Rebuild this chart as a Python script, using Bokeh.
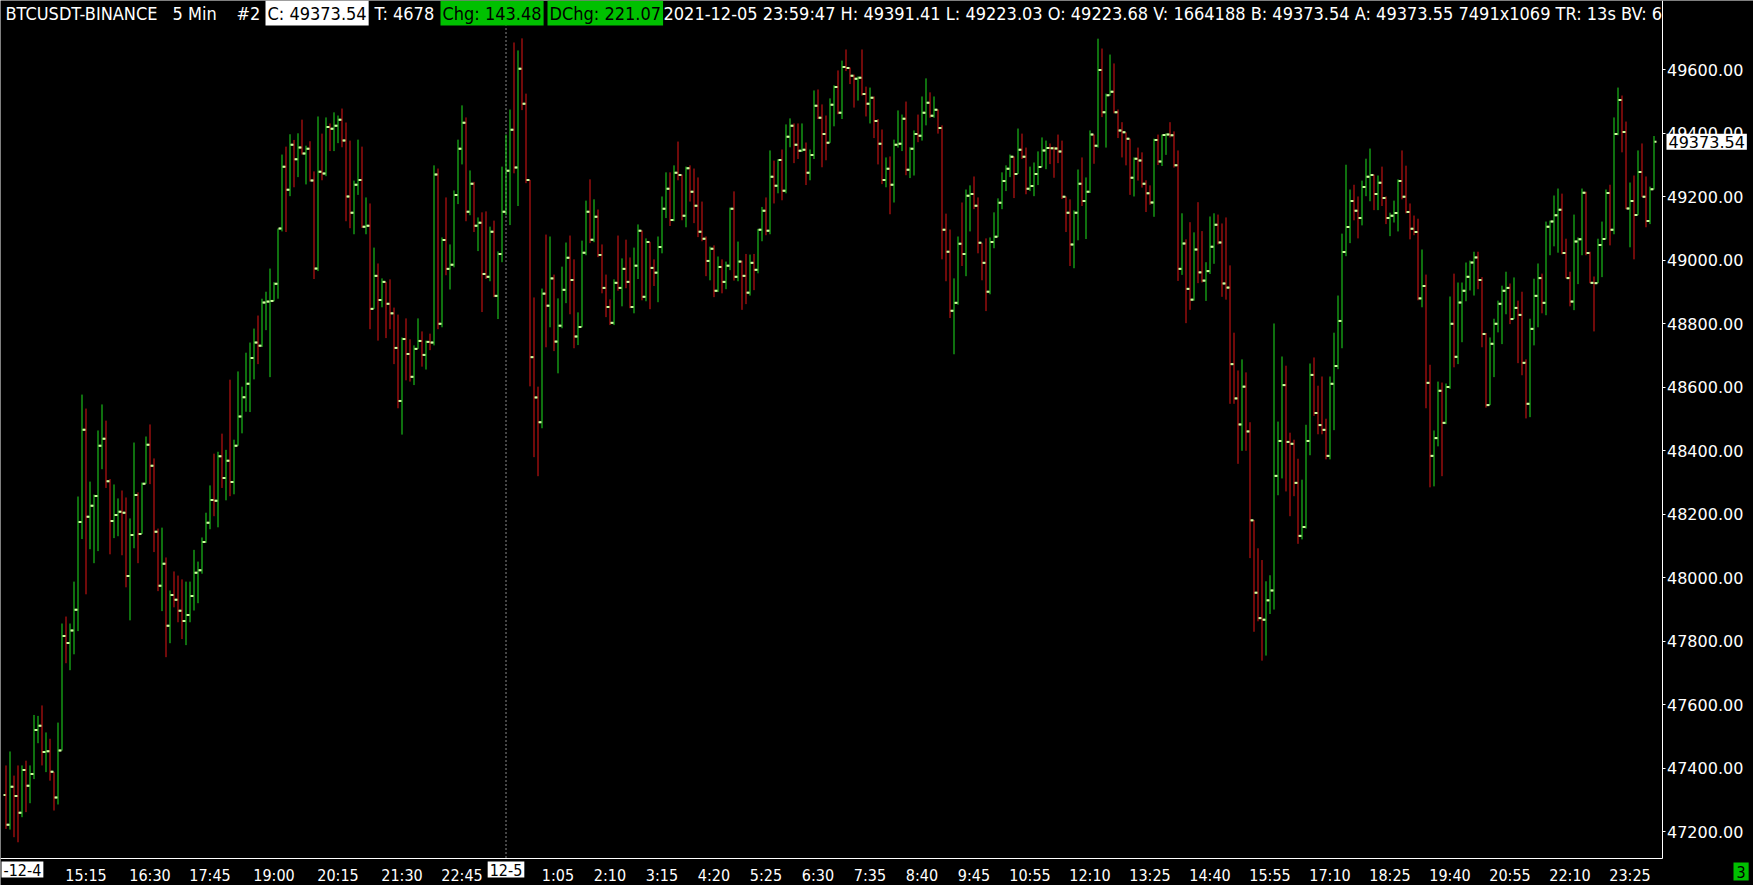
import numpy as np
from bokeh.plotting import figure
from bokeh.models import Range1d, FixedTicker, NumeralTickFormatter, Label, ColumnDataSource, LinearAxis
from bokeh.embed import file_html
from bokeh.resources import INLINE

# ---------------- data (BTCUSDT 5-min bars, 2021-12-04 13:35 .. 2021-12-05 23:55) -------------
first_open = 47316
closes = [
    47222, 47342, 47313, 47260, 47395, 47345, 47382, 47521, 47534, 47451,
    47454, 47389, 47308, 47456, 47817, 47795, 47834, 47899, 48176, 48466,
    48192, 48227, 48258, 48416, 48438, 48304, 48179, 48198, 48208, 48205,
    48006, 48135, 48261, 48138, 48296, 48419, 48353, 48145, 47975, 48044,
    47849, 47946, 47931, 47896, 47864, 47883, 47943, 48016, 48024, 48113,
    48173, 48245, 48243, 48383, 48314, 48369, 48302, 48416, 48508, 48569,
    48611, 48692, 48741, 48731, 48867, 48870, 48872, 48926, 49100, 49295,
    49222, 49364, 49318, 49355, 49336, 49351, 49251, 48974, 49279, 49273,
    49420, 49414, 49424, 49443, 49377, 49201, 49150, 49238, 49253, 49106,
    49109, 48847, 48951, 48875, 48932, 48863, 48833, 48724, 48557, 48752,
    48705, 48633, 48721, 48746, 48702, 48743, 48741, 49270, 48800, 49064,
    48973, 48986, 49206, 49351, 49433, 49153, 49241, 49109, 49118, 48957,
    48948, 49090, 48888, 49020, 49153, 49282, 49411, 49292, 49603, 49493,
    49253, 48695, 48568, 48490, 48895, 48857, 48943, 48744, 48794, 48907,
    49008, 48938, 48760, 48790, 49024, 49153, 49065, 49137, 49017, 48913,
    48853, 48803, 48929, 48913, 48973, 48932, 48853, 48983, 49093, 48885,
    49058, 48976, 48961, 49042, 49162, 49225, 49127, 49276, 49269, 49140,
    49290, 49216, 49172, 49090, 49068, 48998, 49036, 48904, 48979, 48932,
    48983, 49162, 48948, 48996, 48951, 48898, 48992, 48970, 49096, 49156,
    49093, 49263, 49235, 49316, 49219, 49389, 49424, 49364, 49345, 49348,
    49276, 49332, 49487, 49449, 49398, 49370, 49490, 49546, 49465, 49609,
    49606, 49581, 49572, 49575, 49524, 49493, 49512, 49439, 49367, 49253,
    49288, 49238, 49364, 49367, 49446, 49285, 49351, 49398, 49392, 49465,
    49496, 49455, 49474, 49417, 49096, 49027, 48841, 48866, 49052, 49020,
    49203, 49209, 49172, 49055, 48992, 48901, 49058, 49074, 49181, 49250,
    49288, 49326, 49272, 49348, 49326, 49225, 49234, 49272, 49294, 49346,
    49354, 49353, 49352, 49343, 49200, 49150, 49050, 49150, 49241, 49187,
    49216, 49396, 49361, 49599, 49466, 49520, 49531, 49466, 49409, 49403,
    49383, 49260, 49320, 49314, 49241, 49211, 49182, 49379, 49311, 49395,
    49396, 49394, 49299, 48973, 49053, 48910, 48876, 49034, 48962, 48936,
    48966, 49043, 49112, 49056, 48927, 48914, 48673, 48565, 48483, 48602,
    48461, 48181, 47953, 47873, 47868, 47929, 47960, 48321, 48431, 48607,
    48428, 48422, 48299, 48132, 48160, 48431, 48639, 48519, 48481, 48466,
    48384, 48611, 48667, 48809, 49026, 49105, 49187, 49156, 49133, 49231,
    49263, 49269, 49209, 49244, 49196, 49133, 49140, 49149, 49250, 49200,
    49152, 49099, 49089, 48880, 48919, 48614, 48384, 48440, 48589, 48488,
    48601, 48800, 48696, 48867, 48904, 48948, 48993, 49009, 48938, 48768,
    48544, 48737, 48800, 48863, 48904, 48913, 48815, 48850, 48828, 48677,
    48548, 48784, 48888, 48944, 48866, 49106, 49122, 49142, 49159, 49023,
    48944, 48870, 49059, 49066, 49213, 49023, 48929, 48928, 49048, 49067,
    49212, 49096, 49398, 49505, 49404, 49163, 49187, 49143, 49278, 49200,
    49124, 49223.68, 49373.54,
]
highs = [
    47409, 47453, 47377, 47409, 47409, 47424, 47409, 47568, 47565, 47598,
    47513, 47493, 47389, 47544, 47856, 47878, 47856, 47988, 48256, 48577,
    48533, 48303, 48262, 48464, 48546, 48495, 48311, 48294, 48250, 48275,
    48253, 48187, 48426, 48269, 48300, 48445, 48483, 48376, 48155, 48158,
    48064, 47960, 48020, 48007, 47995, 47988, 47988, 48088, 48051, 48127,
    48205, 48291, 48391, 48397, 48454, 48403, 48624, 48435, 48650, 48602,
    48709, 48741, 48785, 48826, 48879, 48901, 48974, 48931, 49100, 49333,
    49358, 49397, 49379, 49400, 49443, 49361, 49375, 49280, 49453, 49399,
    49450, 49431, 49466, 49456, 49478, 49434, 49377, 49251, 49380, 49358,
    49198, 49179, 49040, 48990, 48943, 48932, 48940, 48851, 48829, 48757,
    48817, 48751, 48732, 48817, 48776, 48747, 48769, 49299, 49289, 49072,
    49198, 49050, 49220, 49380, 49488, 49450, 49283, 49247, 49135, 49151,
    49154, 49106, 49125, 49028, 49295, 49396, 49475, 49686, 49661, 49699,
    49525, 49253, 48883, 48602, 48911, 49081, 49075, 48955, 48880, 48980,
    49056, 49078, 49003, 48836, 49062, 49188, 49255, 49192, 49160, 49050,
    48955, 48877, 48940, 49078, 49006, 49065, 49009, 49040, 49113, 49094,
    49069, 49056, 49003, 49075, 49201, 49277, 49277, 49299, 49374, 49270,
    49295, 49299, 49289, 49261, 49185, 49075, 49043, 49047, 49012, 49003,
    48996, 49166, 49217, 49059, 48999, 49020, 49018, 49020, 49099, 49168,
    49198, 49346, 49314, 49318, 49349, 49428, 49447, 49431, 49431, 49431,
    49371, 49349, 49535, 49538, 49491, 49456, 49510, 49551, 49598, 49629,
    49664, 49607, 49585, 49579, 49664, 49547, 49544, 49516, 49445, 49412,
    49324, 49327, 49380, 49472, 49459, 49500, 49356, 49409, 49459, 49516,
    49573, 49529, 49516, 49475, 49425, 49147, 49097, 48943, 49075, 49182,
    49223, 49236, 49264, 49198, 49053, 49069, 49072, 49151, 49195, 49277,
    49299, 49333, 49327, 49415, 49399, 49355, 49295, 49308, 49343, 49387,
    49377, 49368, 49358, 49396, 49377, 49201, 49192, 49157, 49286, 49324,
    49261, 49409, 49396, 49698, 49667, 49525, 49648, 49620, 49475, 49435,
    49403, 49383, 49324, 49355, 49340, 49252, 49236, 49383, 49396, 49396,
    49400, 49435, 49406, 49346, 49148, 49066, 49120, 49088, 49183, 49092,
    48994, 49138, 49148, 49144, 49116, 49135, 48984, 48772, 48653, 48688,
    48647, 48490, 48182, 48093, 48056, 47989, 48008, 48801, 48492, 48697,
    48668, 48457, 48435, 48375, 48309, 48482, 48675, 48694, 48605, 48634,
    48501, 48634, 48772, 48889, 49084, 49301, 49223, 49238, 49201, 49251,
    49320, 49352, 49270, 49267, 49295, 49201, 49150, 49188, 49255, 49346,
    49298, 49179, 49141, 49131, 49034, 48955, 48671, 48464, 48618, 48615,
    48612, 48886, 48958, 48930, 48930, 48993, 48999, 49027, 49027, 48947,
    48771, 48757, 48816, 48873, 48920, 48964, 48927, 48946, 48873, 48901,
    48688, 48816, 48942, 48990, 48958, 49122, 49125, 49204, 49226, 49210,
    49068, 48964, 49144, 49072, 49226, 49216, 49027, 48949, 49068, 49122,
    49223, 49238, 49450, 49544, 49519, 49437, 49245, 49267, 49346, 49368,
    49264, 49232, 49391.41,
]
lows = [
    47209, 47207, 47183, 47167, 47246, 47262, 47290, 47366, 47479, 47409,
    47388, 47361, 47267, 47286, 47456, 47731, 47709, 47759, 47832, 48122,
    47948, 48090, 48046, 48084, 48342, 48283, 48074, 48125, 48131, 48071,
    47970, 47866, 48093, 48046, 48138, 48296, 48295, 48081, 47958, 47895,
    47750, 47794, 47907, 47860, 47807, 47788, 47860, 47897, 47920, 48013,
    48110, 48153, 48194, 48159, 48283, 48244, 48257, 48263, 48454, 48455,
    48523, 48522, 48625, 48673, 48727, 48780, 48632, 48871, 48879, 49091,
    49089, 49202, 49230, 49262, 49333, 49239, 49248, 48941, 48966, 49252,
    49265, 49344, 49344, 49369, 49356, 49123, 49101, 49082, 49206, 49102,
    49082, 48783, 48847, 48747, 48852, 48755, 48783, 48673, 48534, 48451,
    48622, 48618, 48607, 48721, 48665, 48656, 48717, 48732, 48783, 48789,
    48953, 48908, 48978, 49177, 49302, 49123, 49142, 49089, 49029, 48837,
    48941, 48934, 48884, 48815, 48994, 49142, 49111, 49274, 49171, 49473,
    49243, 48603, 48380, 48320, 48471, 48726, 48789, 48714, 48644, 48786,
    48865, 48830, 48723, 48733, 48789, 49016, 49054, 49057, 49010, 48896,
    48821, 48796, 48796, 48904, 48855, 48912, 48849, 48833, 48941, 48874,
    48871, 48846, 48919, 48868, 49022, 49133, 49108, 49123, 49252, 49126,
    49104, 49185, 49117, 49073, 49060, 48950, 48937, 48884, 48900, 48896,
    48909, 48969, 48936, 48934, 48844, 48862, 48889, 48906, 48959, 49060,
    49079, 49082, 49179, 49211, 49189, 49211, 49356, 49306, 49319, 49341,
    49237, 49252, 49319, 49445, 49293, 49315, 49371, 49422, 49460, 49445,
    49596, 49555, 49481, 49503, 49519, 49453, 49431, 49385, 49302, 49240,
    49230, 49145, 49182, 49355, 49344, 49268, 49259, 49267, 49372, 49377,
    49425, 49449, 49449, 49399, 49003, 48934, 48818, 48704, 48860, 48982,
    48950, 49091, 49161, 49022, 48937, 48840, 48893, 49038, 49073, 49161,
    49218, 49262, 49196, 49274, 49319, 49208, 49218, 49202, 49237, 49293,
    49287, 49303, 49260, 49306, 49193, 49089, 48982, 48975, 49063, 49171,
    49067, 49212, 49304, 49355, 49451, 49355, 49518, 49463, 49385, 49324,
    49299, 49206, 49201, 49251, 49229, 49152, 49175, 49137, 49300, 49297,
    49332, 49387, 49292, 48935, 48954, 48802, 48844, 48873, 48928, 48930,
    48872, 48957, 48989, 49050, 48885, 48876, 48548, 48548, 48359, 48400,
    48400, 48062, 47830, 47863, 47739, 47755, 47886, 47900, 48260, 48313,
    48272, 48194, 48257, 48107, 48121, 48155, 48386, 48510, 48452, 48452,
    48373, 48373, 48465, 48657, 48723, 49013, 49054, 49126, 49069, 49110,
    49202, 49186, 49158, 49158, 49171, 49114, 49076, 49119, 49091, 49192,
    49148, 49066, 49079, 48874, 48852, 48534, 48285, 48288, 48414, 48320,
    48484, 48595, 48663, 48673, 48742, 48871, 48905, 48889, 48909, 48726,
    48536, 48544, 48632, 48773, 48736, 48830, 48799, 48830, 48676, 48638,
    48502, 48506, 48732, 48789, 48833, 48827, 49016, 49044, 49024, 49019,
    48943, 48855, 48843, 48925, 49016, 49016, 48928, 48776, 48928, 48947,
    49066, 49047, 49082, 49394, 49340, 49161, 49041, 49003, 49142, 49199,
    49104, 49114, 49223.03,
]
# every bar opens where the previous one closed (the open ticks sit beside the previous close ticks)
opens = [first_open] + closes[:-1]

day_break_index = 125          # first bar of 2021-12-05 (00:00)
day_break_label = "12-5"
first_day_label = "-12-4"
time_ticks = [20, 36, 51, 67, 83, 99, 114, 138, 151, 164, 177, 190, 203, 216, 229,
              242, 256, 271, 286, 301, 316, 331, 346, 361, 376, 391, 406]
time_labels = ["15:15", "16:30", "17:45", "19:00", "20:15", "21:30", "22:45",
               "1:05", "2:10", "3:15", "4:20", "5:25", "6:30", "7:35", "8:40",
               "9:45", "10:55", "12:10", "13:25", "14:40", "15:55", "17:10",
               "18:25", "19:40", "20:55", "22:10", "23:25"]
price_ticks = [47200, 47400, 47600, 47800, 48000, 48200, 48400, 48600,
               48800, 49000, 49200, 49400, 49600]
last_price = 49373.54
last_price_text = "49373.54"
header_texts = ["BTCUSDT-BINANCE", "5 Min", "#2", "C: 49373.54", "T: 4678",
                "Chg: 143.48", "DChg: 221.07",
                "2021-12-05 23:59:47 H: 49391.41 L: 49223.03 O: 49223.68 V: 1664188 "
                "B: 49373.54 A: 49373.55 7491x1069 TR: 13s BV: 6"]
corner_text = "3"

# ---------------- layout / style ----------------
W, H = 1753, 885
PX_PER_BAR = 4.0
BAR0_PX = 5.5                 # pixel centre of the first bar
AXIS_X_PX = 1661.5            # price-axis line
AXIS_Y_PX = 857.5             # time-axis line
CHART_TOP_PX = 25
Y_REF = (49600, 69.3, 47200, 831.3)   # two (price, pixel-row) pairs fixing the price scale

UP, DOWN, TICK = "#1ee01e", "#e01414", "#d0ffa0"
HDR_GREEN = "#00c000"
COND = "DejaVu Sans Condensed, DejaVu Sans, sans-serif"
AXF = "DejaVu Sans"

header_x = [3, 170, 234, 265, 372, 440, 547, 661]
header_bg = [None, None, None, "white", None, HDR_GREEN, HDR_GREEN, None]

p_hi, r_hi, p_lo, r_lo = Y_REF
ppd = (r_lo - r_hi) / (p_hi - p_lo)           # pixels per dollar
def px2price(r):
    return p_hi - (r - r_hi) / ppd
def px2bar(c):
    return (c - BAR0_PX) / PX_PER_BAR

y_top, y_bot = px2price(0), px2price(H)
x_left, x_right = px2bar(0), px2bar(W)

o = np.array(opens, dtype=float)
c = np.array(closes, dtype=float)
h = np.maximum(np.array(highs, dtype=float), np.maximum(o, c))
l = np.minimum(np.array(lows, dtype=float), np.minimum(o, c))
x = np.arange(len(c), dtype=float)
colors = [UP if cc >= oo else DOWN for oo, cc in zip(o, c)]
tick_w = 2.0 / PX_PER_BAR
gap = 0.5 / PX_PER_BAR
src = ColumnDataSource(dict(x=x, o=o, c=c, h=h, l=l, col=colors,
                            xo0=x - gap - tick_w, xo1=x - gap,
                            xc0=x + gap, xc1=x + gap + tick_w))

p = figure(width=W, height=H, output_backend="svg", toolbar_location=None,
           x_range=Range1d(x_left, x_right), y_range=Range1d(y_bot, y_top),
           x_axis_location=None, y_axis_location=None,
           background_fill_color="black", border_fill_color="black",
           min_border=0, min_border_left=0, min_border_right=0,
           min_border_top=0, min_border_bottom=0)
p.outline_line_color = None
p.xgrid.visible = False
p.ygrid.visible = False

axis_x = px2bar(AXIS_X_PX)
axis_y = px2price(AXIS_Y_PX)
chart_top = px2price(CHART_TOP_PX)

# day separator
p.segment(x0=[day_break_index], x1=[day_break_index], y0=[axis_y], y1=[chart_top],
          line_color="#8a8a8a", line_width=1, line_dash="2 2")

# OHLC bars
p.segment(x0="x", x1="x", y0="l", y1="h", line_color="col", line_width=1, source=src)
p.segment(x0="xo0", x1="xo1", y0="o", y1="o", line_color=TICK, line_width=2, source=src)
p.segment(x0="xc0", x1="xc1", y0="c", y1="c", line_color=TICK, line_width=2, source=src)

# time axis (drawn at a fixed spot inside the canvas)
xa = LinearAxis(fixed_location=axis_y, bounds=(x_left, axis_x))
xa.ticker = FixedTicker(ticks=time_ticks, minor_ticks=[])
xa.major_label_overrides = {t: s for t, s in zip(time_ticks, time_labels)}
xa.axis_line_color = "white"
xa.major_tick_line_color = None
xa.minor_tick_line_color = None
xa.major_label_text_color = "white"
xa.major_label_text_font = COND
xa.major_label_text_font_size = "16px"
xa.major_label_standoff = 2
p.add_layout(xa, "below")

# price axis
ya = LinearAxis(fixed_location=axis_x, bounds=(axis_y, y_top))
ya.ticker = FixedTicker(ticks=price_ticks, minor_ticks=[])
ya.formatter = NumeralTickFormatter(format="0.00")
ya.axis_line_color = "white"
ya.major_tick_line_color = "white"
ya.major_tick_out = 3
ya.major_tick_in = 0
ya.minor_tick_line_color = None
ya.major_label_text_color = "white"
ya.major_label_text_font = AXF
ya.major_label_text_font_size = "16px"
ya.major_label_standoff = 2
p.add_layout(ya, "right")

# header
for txt, hx, bg in zip(header_texts, header_x, header_bg):
    p.add_layout(Label(x=hx, y=H - 12.5, x_units="screen", y_units="screen", text=txt,
                       text_color="black" if bg else "white", text_font=COND,
                       text_font_size="18px", text_baseline="middle", text_align="left",
                       background_fill_color=bg, padding=2))

# current price box on the price axis
p.add_layout(Label(x=px2bar(1666), y=last_price, x_units="data", y_units="data",
                   text=last_price_text, text_color="black", text_font=AXF,
                   text_font_size="16px", text_baseline="middle", text_align="left",
                   background_fill_color="white", padding=2))

# date boxes on the time axis
label_y = px2price(869)
p.add_layout(Label(x=day_break_index, y=label_y, x_units="data", y_units="data",
                   text=day_break_label, text_color="black", text_font=COND,
                   text_font_size="16px", text_baseline="middle", text_align="center",
                   background_fill_color="white", padding=2))
p.add_layout(Label(x=1, y=label_y, x_units="screen", y_units="data",
                   text=first_day_label, text_color="black", text_font=COND,
                   text_font_size="16px", text_baseline="middle", text_align="left",
                   background_fill_color="white", padding=2))
p.add_layout(Label(x=1733, y=px2price(871), x_units="screen", y_units="data",
                   text=corner_text, text_color="black", text_font=COND,
                   text_font_size="16px", text_baseline="middle", text_align="left",
                   background_fill_color=HDR_GREEN, padding=3))

open("out.html", "w").write(file_html(p, INLINE))
